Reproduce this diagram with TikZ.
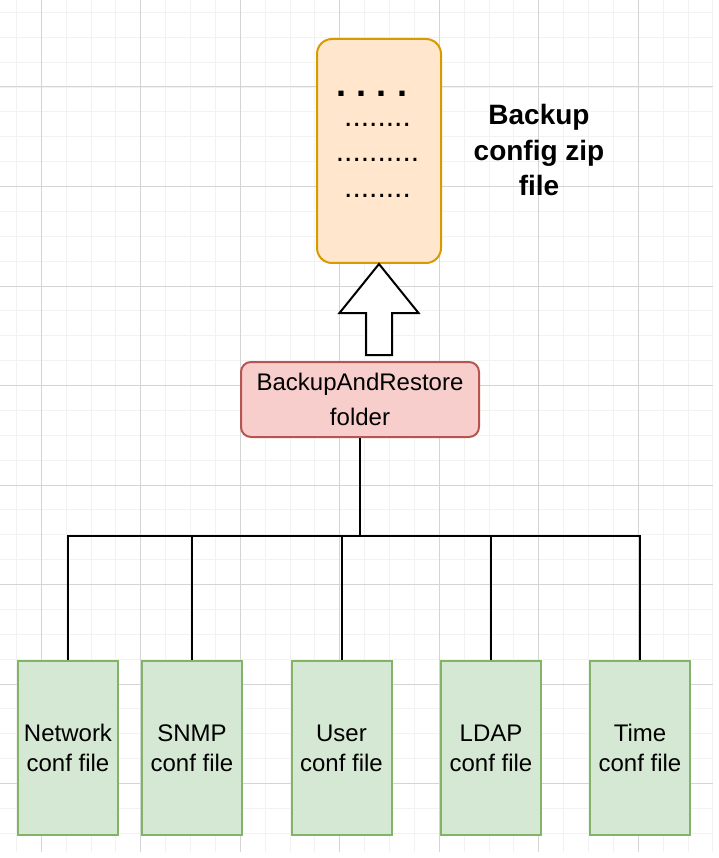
\documentclass[tikz,border=0pt]{standalone}
\usepackage{fontspec}
\setmainfont{Liberation Sans}
\usetikzlibrary{positioning,calc}
\definecolor{zipfill}{HTML}{FFE6CC}
\definecolor{zipline}{HTML}{D79B00}
\definecolor{folderfill}{HTML}{F8CECC}
\definecolor{folderline}{HTML}{B85450}
\definecolor{filefill}{HTML}{D5E8D4}
\definecolor{fileline}{HTML}{82B366}

\begin{document}
\begin{tikzpicture}[x=1pt, y=-1pt,
    minorgrid/.style={draw=black!5, line width=1pt},
    majorgrid/.style={draw=black!17, line width=1pt},
    filebox/.style={draw=fileline, fill=filefill, line width=2pt,
        minimum width=100pt, minimum height=174pt, align=center,
        inner sep=0pt, font=\fontsize{24}{30}\selectfont},
    link/.style={draw=black, line width=2pt}
]
    \useasboundingbox (0,0) rectangle (719,858);

    % background grid
    \begin{scope}
        \clip (0,0) rectangle (713,852);
        \foreach \i in {0,...,28}
            \draw[minorgrid] ({16.4+24.875*\i},0) -- ++(0,852);
        \foreach \j in {0,...,33}
            \draw[minorgrid] (0,{12.4+24.875*\j}) -- ++(713,0);
        \foreach \i in {0,...,7}
            \draw[majorgrid] ({41.3+99.5*\i},0) -- ++(0,852);
        \foreach \j in {0,...,8}
            \draw[majorgrid] (0,{87+99.5*\j}) -- ++(713,0);
    \end{scope}

    % zip file
    \node (zip) [draw=zipline, fill=zipfill, line width=2pt, rounded corners=15pt,
        minimum width=124pt, minimum height=224pt] at (379,151) {};
    \node (dots 1) [anchor=base, inner sep=0pt,
        font=\fontsize{36}{36}\selectfont\bfseries\frenchspacing]
        at (372,97) {. . . .};
    \node (dots 2) [anchor=base, inner sep=0pt, font=\fontsize{30}{30}\selectfont]
        at (377.5,127) {........};
    \node (dots 3) [anchor=base, inner sep=0pt, font=\fontsize{30}{30}\selectfont]
        at (377.5,162) {..........};
    \node (dots 4) [anchor=base, inner sep=0pt, font=\fontsize{30}{30}\selectfont]
        at (377.5,198) {........};
    \node (zip label) [align=center, inner sep=0pt,
        font=\fontsize{28}{35.5}\selectfont\bfseries] at (539,150)
        {Backup\\config zip\\file};

    % folder
    \node (folder) [draw=folderline, fill=folderfill, line width=2pt, rounded corners=10pt,
        minimum width=238pt, minimum height=75pt, align=center, inner sep=0pt,
        font=\fontsize{24}{35}\selectfont] at (360,399.5)
        {BackupAndRestore\\folder};

    % hollow arrow
    \draw[link, fill=white, line join=miter] (zip.south) -- ++(39.5,49) -- ++(-26.5,0)
        -- ++(0,42) -- ++(-26,0) -- ++(0,-42) -- ++(-26.5,0) -- cycle;

    % conf files
    \node (network) [filebox] at (68,748) {Network\\conf file};
    \node (snmp) [filebox] at (192,748) {SNMP\\conf file};
    \node (user) [filebox] at (341.5,748) {User\\conf file};
    \node (ldap) [filebox] at (491,748) {LDAP\\conf file};
    \node (time) [filebox] at (640,748) {Time\\conf file};

    \coordinate (bus) at (0,536);
    \draw[link] (folder.south) -- (folder.south |- bus);
    \draw[link, line cap=rect] (network.north |- bus) -- (time.north |- bus);
    \foreach \f in {network,snmp,user,ldap,time}
        \draw[link] (\f.north) -- (\f.north |- bus);
\end{tikzpicture}
\end{document}
